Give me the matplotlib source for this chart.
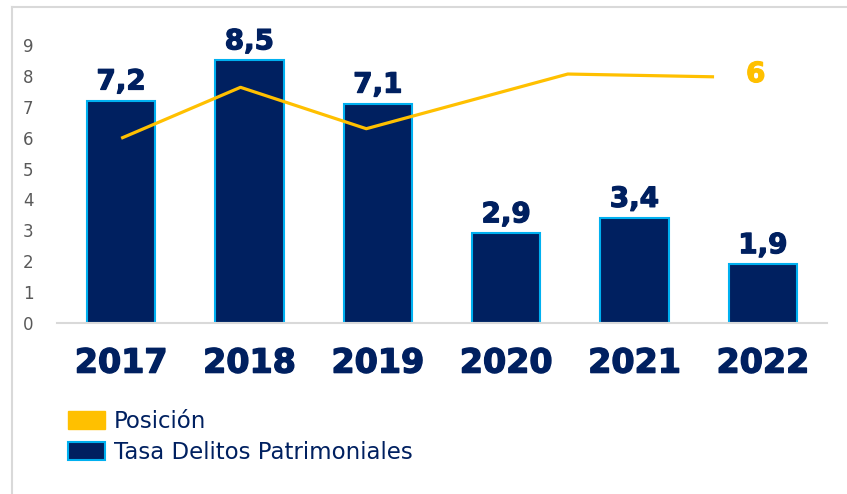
import matplotlib
matplotlib.use('Agg')
import matplotlib.pyplot as plt
import matplotlib.patheffects as pe
from matplotlib.patches import Patch
from matplotlib.lines import Line2D

# datos
years = ['2017', '2018', '2019', '2020', '2021', '2022']
tasa = [7.2, 8.5, 7.1, 2.9, 3.4, 1.9]
tasa_txt = ['7,2', '8,5', '7,1', '2,9', '3,4', '1,9']

# linea de posicion (en posiciones de categoria)
pos_x = [0.0, 0.93, 1.91, 3.48, 4.62]
pos_y = [5.98, 7.63, 6.29, 8.06, 7.97]
pos_last = '6'

navy = '#002060'
cyan = '#00B0F0'
gold = '#FFC000'
gris = '#D9D9D9'

fig = plt.figure(figsize=(8.47, 4.94), dpi=100)
ax = fig.add_axes([57/847, 1-323/494, 770/847, 278/494])

x = list(range(len(years)))
ax.bar(x, tasa, width=0.53, color=navy, edgecolor=cyan, linewidth=1.5, zorder=2)
grueso = [pe.withStroke(linewidth=0.9, foreground=navy)]
for i in range(len(years)):
    ax.annotate(tasa_txt[i], (x[i], tasa[i]), xytext=(0, 8), textcoords='offset points',
                ha='center', va='baseline', fontsize=20, fontweight='bold', color=navy,
                annotation_clip=False, path_effects=grueso)

ax.plot(pos_x, pos_y, color=gold, linewidth=2.3, zorder=3, solid_capstyle='butt')
ax.annotate(pos_last, (pos_x[-1], pos_y[-1]), xytext=(30, 2), textcoords='offset points',
            ha='center', va='center', fontsize=20, fontweight='bold', color=gold,
            annotation_clip=False, path_effects=[pe.withStroke(linewidth=0.9, foreground=gold)])

ax.set_xlim(-0.5, 5.5)
ax.set_ylim(0, 9)
ax.set_yticks(range(0, 10))
ax.set_xticks(x)
ax.set_xticklabels(years, fontsize=24, fontweight='bold', color=navy)
for t in ax.get_xticklabels():
    t.set_path_effects([pe.withStroke(linewidth=1.0, foreground=navy)])
ax.tick_params(axis='y', length=0, pad=17, labelsize=12, labelcolor='#595959')
ax.tick_params(axis='x', length=0, pad=17)
for s in ['top', 'right', 'left']:
    ax.spines[s].set_visible(False)
ax.spines['bottom'].set_color(gris)
ax.spines['bottom'].set_linewidth(1.5)

handles = [Patch(facecolor=gold, edgecolor=gold, label='Posición'),
           Patch(facecolor=navy, edgecolor=cyan, linewidth=1.5, label='Tasa Delitos Patrimoniales')]
leg = fig.legend(handles=handles, loc='upper left', bbox_to_anchor=(68/847, 1-410/494),
                 frameon=False, fontsize=16.5, handlelength=1.6, handleheight=0.85,
                 handletextpad=0.4, labelspacing=0.35, borderpad=0, borderaxespad=0)
for t in leg.get_texts():
    t.set_color(navy)

# marco gris de la figura
fig.add_artist(Line2D([11.5/847, 11.5/847], [0, 1-7/494], color=gris, linewidth=1.5))
fig.add_artist(Line2D([11.5/847, 1], [1-7/494, 1-7/494], color=gris, linewidth=1.5))

plt.savefig('out.png', dpi=100)
